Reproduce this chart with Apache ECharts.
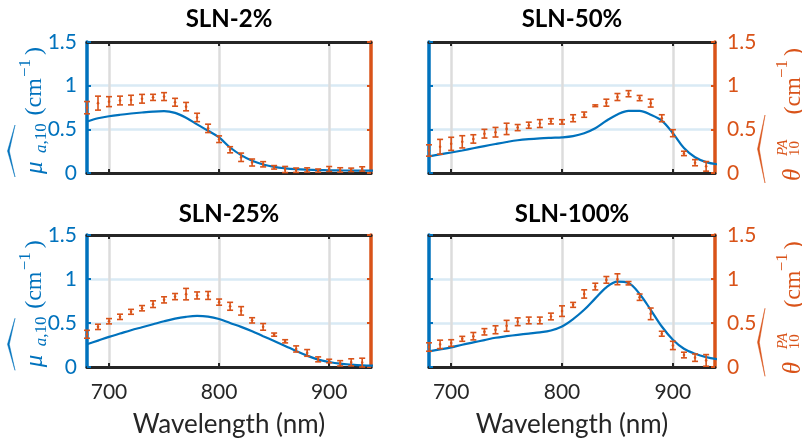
<!DOCTYPE html>
<html>
<head>
<meta charset="utf-8">
<script src="https://cdn.jsdelivr.net/npm/echarts@6/dist/echarts.min.js"></script>
<style>
  html, body { margin: 0; padding: 0; background: #ffffff; }
  #chart { width: 802px; height: 445px; }
</style>
</head>
<body>
<div id="chart"></div>
<script>
// Measurement wavelengths (nm) of the photoacoustic estimates
const wavelengths = [680, 690, 700, 710, 720, 730, 740, 750, 760, 770, 780, 790, 800,
                     810, 820, 830, 840, 850, 860, 870, 880, 890, 900, 910, 920, 930];
// Wavelength grid of the reference absorption curves
const fitWavelengths = [680, 690, 700, 710, 720, 730, 740, 750, 760, 770, 780, 790, 800,
                        810, 820, 830, 840, 850, 860, 870, 880, 890, 900, 910, 920, 930, 940];

const panelTitles = ['SLN-2%', 'SLN-50%', 'SLN-25%', 'SLN-100%'];
const xTickValues = [700, 800, 900];

// Reference absorption mu_a,10 (cm^-1)
const muA_SLN2 = [0.589, 0.627, 0.650, 0.667, 0.681, 0.693, 0.703, 0.708, 0.688, 0.632, 0.557, 0.484, 0.408,
                  0.292, 0.205, 0.140, 0.098, 0.070, 0.054, 0.044, 0.038, 0.034, 0.031, 0.029, 0.028, 0.027, 0.027];
const muA_SLN50 = [0.190, 0.213, 0.235, 0.258, 0.283, 0.308, 0.332, 0.355, 0.375, 0.388, 0.397, 0.403, 0.408,
                   0.422, 0.455, 0.512, 0.598, 0.670, 0.712, 0.712, 0.668, 0.600, 0.456, 0.285, 0.180, 0.125, 0.100];
const muA_SLN25 = [0.258, 0.300, 0.342, 0.380, 0.418, 0.452, 0.486, 0.520, 0.550, 0.570, 0.580, 0.572, 0.545,
                   0.500, 0.456, 0.406, 0.350, 0.296, 0.240, 0.182, 0.129, 0.084, 0.057, 0.038, 0.027, 0.019, 0.015];
const muA_SLN100 = [0.178, 0.200, 0.223, 0.253, 0.280, 0.306, 0.332, 0.350, 0.366, 0.380, 0.393, 0.415, 0.460,
                    0.544, 0.650, 0.780, 0.905, 0.970, 0.955, 0.830, 0.650, 0.460, 0.310, 0.208, 0.151, 0.113, 0.090];

// Photoacoustic estimates theta_10^PA (cm^-1) and their error half-widths
const theta_SLN2 = [0.748, 0.800, 0.817, 0.830, 0.835, 0.850, 0.866, 0.875, 0.810, 0.760, 0.636, 0.511, 0.387,
                    0.266, 0.180, 0.120, 0.100, 0.065, 0.040, 0.032, 0.035, 0.028, 0.046, 0.035, 0.036, 0.046];
const thetaErr_SLN2 = [0.070, 0.080, 0.057, 0.050, 0.055, 0.050, 0.035, 0.045, 0.045, 0.048, 0.048, 0.048, 0.038,
                       0.035, 0.048, 0.040, 0.030, 0.020, 0.035, 0.025, 0.024, 0.018, 0.028, 0.025, 0.020, 0.025];
const theta_SLN50 = [0.258, 0.300, 0.334, 0.357, 0.390, 0.450, 0.467, 0.505, 0.520, 0.547, 0.566, 0.592, 0.585,
                     0.627, 0.668, 0.770, 0.805, 0.870, 0.908, 0.858, 0.800, 0.627, 0.456, 0.224, 0.118, 0.076];
const thetaErr_SLN50 = [0.065, 0.085, 0.075, 0.070, 0.048, 0.050, 0.055, 0.065, 0.035, 0.035, 0.045, 0.030, 0.025,
                        0.040, 0.030, 0.010, 0.040, 0.040, 0.035, 0.030, 0.045, 0.040, 0.040, 0.025, 0.035, 0.055];
const theta_SLN25 = [0.372, 0.456, 0.520, 0.570, 0.627, 0.668, 0.714, 0.763, 0.800, 0.828, 0.813, 0.813, 0.737,
                     0.690, 0.638, 0.530, 0.456, 0.368, 0.292, 0.205, 0.160, 0.087, 0.068, 0.042, 0.053, 0.050];
const thetaErr_SLN25 = [0.045, 0.030, 0.030, 0.030, 0.028, 0.030, 0.038, 0.035, 0.035, 0.065, 0.040, 0.045, 0.035,
                        0.045, 0.048, 0.030, 0.038, 0.018, 0.018, 0.035, 0.038, 0.028, 0.020, 0.030, 0.040, 0.050];
const theta_SLN100 = [0.227, 0.257, 0.272, 0.320, 0.350, 0.400, 0.423, 0.468, 0.514, 0.529, 0.529, 0.574, 0.635,
                      0.706, 0.830, 0.914, 0.990, 0.997, 0.952, 0.793, 0.604, 0.378, 0.245, 0.136, 0.106, 0.075];
const thetaErr_SLN100 = [0.048, 0.048, 0.038, 0.028, 0.042, 0.036, 0.045, 0.062, 0.044, 0.038, 0.038, 0.038, 0.060,
                         0.028, 0.047, 0.038, 0.038, 0.062, 0.019, 0.036, 0.066, 0.028, 0.047, 0.032, 0.042, 0.066];

const muSeries = [muA_SLN2, muA_SLN50, muA_SLN25, muA_SLN100];
const thetaSeries = [theta_SLN2, theta_SLN50, theta_SLN25, theta_SLN100];
const thetaErrSeries = [thetaErr_SLN2, thetaErr_SLN50, thetaErr_SLN25, thetaErr_SLN100];

const BLUE = '#0072BD';
const ORANGE = '#D95319';
const DARK = '#262626';
const TICK_FONT = 'Lato';
const MATH_FONT = '"Liberation Serif", "DejaVu Serif", serif';

const panelBoxes = [
  { left: 87, top: 42, width: 284, height: 131 },
  { left: 429, top: 42, width: 286, height: 131 },
  { left: 87, top: 235, width: 284, height: 132 },
  { left: 429, top: 235, width: 286, height: 132 }
];

const chart = echarts.init(document.getElementById('chart'), null, { renderer: 'canvas' });

const grids = [], xAxes = [], yAxes = [], series = [], titles = [];

function renderErrorBar(params, api) {
  const x = api.value(0);
  const pLo = api.coord([x, api.value(1)]);
  const pHi = api.coord([x, api.value(2)]);
  const pMid = api.coord([x, api.value(3)]);
  const cap = 3;
  const st = { stroke: ORANGE, lineWidth: 1.6, fill: null };
  return {
    type: 'group',
    children: [
      { type: 'line', shape: { x1: pLo[0], y1: pLo[1], x2: pHi[0], y2: pHi[1] }, style: st },
      { type: 'line', shape: { x1: pLo[0] - cap, y1: pLo[1], x2: pLo[0] + cap, y2: pLo[1] }, style: st },
      { type: 'line', shape: { x1: pHi[0] - cap, y1: pHi[1], x2: pHi[0] + cap, y2: pHi[1] }, style: st },
      { type: 'circle', shape: { cx: pMid[0], cy: pMid[1], r: 1.3 }, style: { fill: ORANGE } }
    ]
  };
}

panelBoxes.forEach(function (box, i) {
  const isLeftCol = i % 2 === 0;
  const isBottomRow = i >= 2;
  grids.push(Object.assign({ containLabel: false }, box));

  titles.push({
    text: panelTitles[i],
    left: box.left + box.width / 2,
    top: isBottomRow ? 202 : 7,
    textAlign: 'center',
    padding: 0,
    textStyle: { fontFamily: TICK_FONT, fontWeight: 'bold', fontSize: 24, color: '#000000' }
  });

  // bottom wavelength axis (carries labels and vertical grid lines)
  xAxes.push({
    type: 'value', gridIndex: i, position: 'bottom', min: 680, max: 938,
    axisLine: { show: true, onZero: false, lineStyle: { color: DARK, width: 3 } },
    axisTick: { show: true, inside: true, length: 4, customValues: xTickValues, lineStyle: { color: DARK, width: 2 } },
    axisLabel: { show: isBottomRow, customValues: xTickValues, margin: 15, color: DARK, fontFamily: TICK_FONT, fontSize: 21 },
    splitLine: { show: true, lineStyle: { color: '#dcdcdc', width: 2.5 } },
    name: isBottomRow ? 'Wavelength (nm)' : '',
    nameLocation: 'middle', nameGap: 45,
    nameTextStyle: { color: DARK, fontFamily: TICK_FONT, fontSize: 26 }
  });
  // top frame line
  xAxes.push({
    type: 'value', gridIndex: i, position: 'top', min: 680, max: 938,
    axisLine: { show: true, onZero: false, lineStyle: { color: DARK, width: 3 } },
    axisTick: { show: true, inside: true, length: 4, customValues: xTickValues, lineStyle: { color: DARK, width: 2 } },
    axisLabel: { show: false },
    splitLine: { show: false }
  });
  // left axis: mu_a
  yAxes.push({
    type: 'value', gridIndex: i, position: 'left', min: 0, max: 1.5, interval: 0.5,
    axisLine: { show: true, onZero: false, lineStyle: { color: BLUE, width: 3.5 } },
    axisTick: { show: true, inside: true, length: 4, lineStyle: { color: BLUE, width: 2 } },
    axisLabel: { show: isLeftCol, color: BLUE, fontFamily: TICK_FONT, fontSize: 21, margin: 10 },
    splitLine: { show: true, lineStyle: { color: '#d9eaf5', width: 2.5 } }
  });
  // right axis: theta^PA
  yAxes.push({
    type: 'value', gridIndex: i, position: 'right', min: 0, max: 1.5, interval: 0.5,
    axisLine: { show: true, onZero: false, lineStyle: { color: ORANGE, width: 3.5 } },
    axisTick: { show: true, inside: true, length: 4, lineStyle: { color: ORANGE, width: 2 } },
    axisLabel: { show: !isLeftCol, color: ORANGE, fontFamily: TICK_FONT, fontSize: 21, margin: 12 },
    splitLine: { show: false }
  });

  series.push({
    type: 'line', xAxisIndex: 2 * i, yAxisIndex: 2 * i,
    data: fitWavelengths.map(function (w, k) { return [w, muSeries[i][k]]; }),
    smooth: 0.35, showSymbol: false, clip: true,
    lineStyle: { color: BLUE, width: 2.2 }, z: 3
  });
  series.push({
    type: 'custom', xAxisIndex: 2 * i, yAxisIndex: 2 * i + 1,
    renderItem: renderErrorBar,
    encode: { x: 0, y: [1, 2, 3] },
    data: wavelengths.map(function (w, k) {
      const c = thetaSeries[i][k], e = thetaErrSeries[i][k];
      return [w, c - e, c + e, c];
    }),
    z: 4
  });
});

// Rotated axis titles (read bottom to top); baseX is the text baseline
function vText(text, baseX, startY, size, italic, color) {
  return {
    type: 'text', x: baseX, y: startY, rotation: Math.PI / 2, silent: true,
    style: {
      text: text, x: 0, y: 0.12 * size,
      font: (italic ? 'italic ' : '') + size + 'px ' + MATH_FONT,
      fill: color, align: 'left', verticalAlign: 'middle', textAlign: 'left', textVerticalAlign: 'middle'
    }
  };
}
function hat(x0, yBottom, yTop, depth, color) {
  const yMid = (yBottom + yTop) / 2;
  return {
    type: 'polygon', silent: true,
    shape: { points: [[x0, yBottom], [x0 - depth, yMid], [x0, yTop], [x0 - depth + 1.8, yMid]] },
    style: { fill: color, stroke: color, lineWidth: 0.5 }
  };
}
function muLabel(dy) {
  return [
    hat(15, 177 + dy, 125 + dy, 7.5, BLUE),
    vText('\u03bc', 32, 174 + dy, 25, true, BLUE),
    vText('a', 39, 153 + dy, 17, true, BLUE),
    vText(',10', 39, 144.5 + dy, 17, false, BLUE),
    vText('(cm', 32, 115.5 + dy, 24, false, BLUE),
    vText('\u22121', 23, 77 + dy, 17, false, BLUE),
    vText(')', 32, 55 + dy, 24, false, BLUE)
  ];
}
function thetaLabel(dy) {
  return [
    hat(765, 183 + dy, 115 + dy, 7.5, ORANGE),
    vText('\u03b8', 790, 181 + dy, 25, true, ORANGE),
    vText('PA', 781, 156 + dy, 15, true, ORANGE),
    vText('10', 793, 156 + dy, 15, false, ORANGE),
    vText('(cm', 791, 114.5 + dy, 24, false, ORANGE),
    vText('\u22121', 780, 78 + dy, 17, false, ORANGE),
    vText(')', 791, 56 + dy, 24, false, ORANGE)
  ];
}

const ROW_SHIFT = 193.3;
const graphicElements = [].concat(muLabel(0), muLabel(ROW_SHIFT), thetaLabel(0), thetaLabel(ROW_SHIFT));

chart.setOption({
  animation: false,
  backgroundColor: '#ffffff',
  title: titles,
  grid: grids,
  xAxis: xAxes,
  yAxis: yAxes,
  series: series,
  graphic: { elements: graphicElements }
});
</script>
</body>
</html>
